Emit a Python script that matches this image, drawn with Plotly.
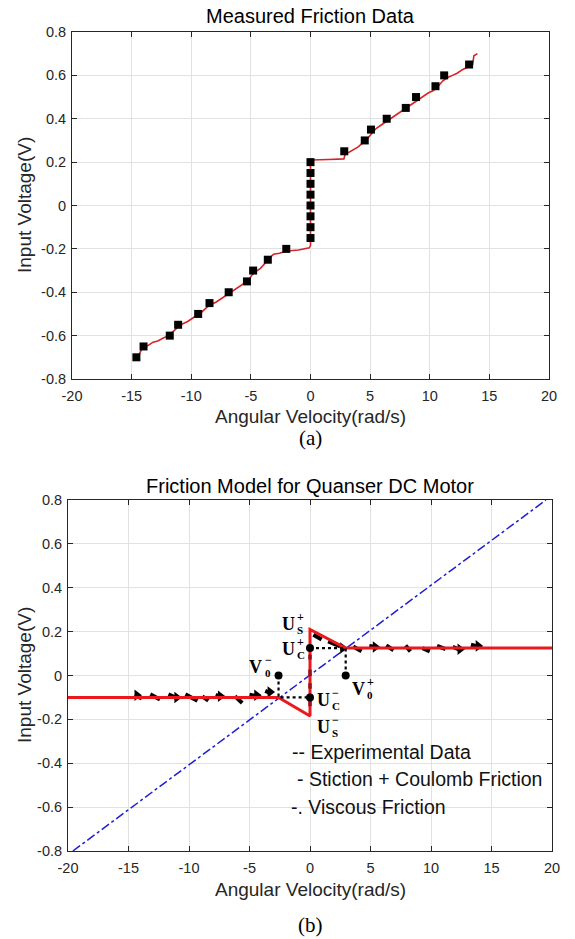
import plotly.graph_objects as go

# ---------------- data ----------------
# (a) measured friction data: squares
meas_x = [-14.6, -14.0, -11.8, -11.1, -9.42, -8.47, -6.86, -5.33, -4.81, -3.58, -2.03,
          0, 0, 0, 0, 0, 0, 0, 0,
          2.83, 4.55, 5.07, 6.39, 7.99, 8.85, 10.48, 11.21, 13.3]
meas_y = [-0.70, -0.65, -0.60, -0.55, -0.50, -0.45, -0.40, -0.35, -0.30, -0.25, -0.20,
          -0.15, -0.10, -0.05, 0.0, 0.05, 0.10, 0.15, 0.20,
          0.25, 0.30, 0.35, 0.40, 0.45, 0.50, 0.55, 0.60, 0.65]

# (a) red measured curve
curve_x = [-14.6, -14.4, -14.1, -13.6, -13.2, -12.8, -12.3, -11.9, -11.5, -11.1, -10.7, -10.3,
           -9.9, -9.5, -9.1, -8.7, -8.3, -7.9, -7.5, -7.1, -6.7, -6.3, -5.9, -5.5, -5.2,
           -4.9, -4.6, -4.2, -3.9, -3.6, -3.3, -3.1, -2.6, -2.0, -1.0, -0.1, 0.0,
           0.0, 0.1, 1.5, 2.8, 2.9, 3.2, 3.6, 4.0, 4.4, 4.8, 5.1, 5.5, 5.9, 6.3, 6.7,
           7.1, 7.5, 7.9, 8.3, 8.7, 9.1, 9.5, 9.9, 10.3, 10.7, 11.1, 11.5, 11.9, 12.3,
           12.7, 13.1, 13.4, 13.6, 13.7, 14.0]
curve_y = [-0.70, -0.69, -0.655, -0.645, -0.63, -0.625, -0.61, -0.60, -0.58, -0.56, -0.545, -0.535,
           -0.52, -0.505, -0.49, -0.47, -0.455, -0.445, -0.43, -0.415, -0.40, -0.385, -0.37, -0.355, -0.345,
           -0.32, -0.305, -0.29, -0.27, -0.255, -0.235, -0.225, -0.22, -0.21, -0.205, -0.195, -0.185,
           0.205, 0.21, 0.212, 0.215, 0.235, 0.245, 0.255, 0.27, 0.29, 0.31, 0.33, 0.355, 0.37, 0.385, 0.40,
           0.415, 0.43, 0.445, 0.46, 0.475, 0.49, 0.505, 0.52, 0.53, 0.55, 0.575, 0.59, 0.60, 0.61,
           0.625, 0.635, 0.645, 0.65, 0.69, 0.70]

# (b) experimental data dashes (segments)
exp_x0 = [-14.5, -13.2, -11.7, -10.3, -8.9, -7.8, -6.2, -5.0, -3.7,
          0.28, 1.5, 3.57, 4.9, 6.3, 7.9, 9.3, 10.5, 11.8, 13.3]
exp_x1 = [-13.9, -12.4, -10.9, -9.3, -8.4, -7.3, -5.6, -4.3, -3.2,
          0.96, 2.5, 4.26, 5.5, 6.9, 8.3, 9.9, 11.2, 12.5, 14.0]
exp_y0 = [-0.09, -0.086, -0.086, -0.086, -0.095, -0.088, -0.095, -0.088, -0.07,
          0.186, 0.156, 0.132, 0.135, 0.137, 0.137, 0.125, 0.135, 0.13, 0.14]
exp_y1 = [-0.105, -0.109, -0.106, -0.115, -0.115, -0.10, -0.125, -0.095, -0.082,
          0.164, 0.133, 0.11, 0.13, 0.115, 0.11, 0.11, 0.12, 0.115, 0.13]
exp_tri_x = [-14.3, -11.0, -7.4, -4.4, -3.3, 2.7, 5.4, 12.4, 13.9]
exp_tri_y = [-0.09, -0.1, -0.095, -0.09, -0.075, 0.125, 0.13, 0.12, 0.135]
exp_vert_y0 = [0.095, 0.027, -0.035, -0.11]
exp_vert_y1 = [0.073, -0.003, -0.06, -0.14]

# (b) stiction + coulomb model
model_x = [-20, -2.6, 0, 0, 2.95, 20]
model_y = [-0.10, -0.10, -0.185, 0.21, 0.125, 0.125]

# (b) viscous friction line
visc_x = [-19.6, 19.5]
visc_y = [-0.80, 0.80]

# (b) dotted guides and points
guide1_x = [0, 2.95, 2.95]
guide1_y = [0.125, 0.125, 0.0]
guide2_x = [-2.6, -2.6, 0]
guide2_y = [0.0, -0.10, -0.10]
dots_x = [0, 2.95, -2.6, 0]
dots_y = [0.125, 0.0, 0.0, -0.10]

# (b) math labels: base, superscript, subscript, x, y
lab_base = ["U", "U", "V", "U", "U", "V"]
lab_sup = ["+", "+", "\u2212", "\u2212", "\u2212", "+"]
lab_sub = ["S", "C", "0", "C", "S", "0"]
lab_x = [-1.8, -1.8, -4.5, 1.1, 1.1, 4.0]
lab_y = [0.236, 0.123, 0.038, -0.11, -0.235, -0.06]

legend_lines = ["-- Experimental Data", "- Stiction + Coulomb Friction", "-. Viscous Friction"]

x_ticks = [-20, -15, -10, -5, 0, 5, 10, 15, 20]
x_ticktext = ["-20", "-15", "-10", "-5", "0", "5", "10", "15", "20"]
y_ticks = [-0.8, -0.6, -0.4, -0.2, 0, 0.2, 0.4, 0.6, 0.8]
y_ticktext = ["-0.8", "-0.6", "-0.4", "-0.2", "0", "0.2", "0.4", "0.6", "0.8"]

titles = ["Measured Friction Data", "Friction Model for Quanser DC Motor"]
x_title = "Angular Velocity(rad/s)"
y_title = "Input Voltage(V)"
captions = ["(a)", "(b)"]

# ---------------- layout helpers ----------------
W, H = 575, 939
def px(v):
    return v / W
def py(v):
    return 1 - v / H

SANS = "Liberation Sans, Arial, sans-serif"
SERIF = "Liberation Serif, Times New Roman, serif"
AX = "#262626"

fig = go.Figure()

# ---- top chart ----
fig.add_trace(go.Scatter(x=curve_x, y=curve_y, mode="lines",
                         line=dict(color="rgb(215,35,40)", width=1.6),
                         xaxis="x", yaxis="y", showlegend=False))
fig.add_trace(go.Scatter(x=meas_x, y=meas_y, mode="markers",
                         marker=dict(symbol="square", size=8, color="black"),
                         xaxis="x", yaxis="y", showlegend=False))

# ---- bottom chart ----
fig.add_trace(go.Scatter(x=visc_x, y=visc_y, mode="lines",
                         line=dict(color="rgb(30,30,210)", width=1.5, dash="dashdot"),
                         xaxis="x2", yaxis="y2", showlegend=False))
ex, ey = [], []
for a, b, c, d in zip(exp_x0, exp_x1, exp_y0, exp_y1):
    ex += [a, b, None]
    ey += [c, d, None]
fig.add_trace(go.Scatter(x=ex, y=ey, mode="lines",
                         line=dict(color="black", width=4),
                         xaxis="x2", yaxis="y2", showlegend=False))
fig.add_trace(go.Scatter(x=exp_tri_x, y=exp_tri_y, mode="markers",
                         marker=dict(symbol="triangle-right", size=10, color="black"),
                         xaxis="x2", yaxis="y2", showlegend=False))
fig.add_trace(go.Scatter(x=model_x, y=model_y, mode="lines",
                         line=dict(color="rgb(235,25,30)", width=3),
                         xaxis="x2", yaxis="y2", showlegend=False))
vx, vy = [], []
for a, b in zip(exp_vert_y0, exp_vert_y1):
    vx += [0, 0, None]
    vy += [a, b, None]
fig.add_trace(go.Scatter(x=vx, y=vy, mode="lines",
                         line=dict(color="rgb(150,20,25)", width=3.5),
                         xaxis="x2", yaxis="y2", showlegend=False))
for gx, gy in ((guide1_x, guide1_y), (guide2_x, guide2_y)):
    fig.add_trace(go.Scatter(x=gx, y=gy, mode="lines",
                             line=dict(color="black", width=2.2, dash="dot"),
                             xaxis="x2", yaxis="y2", showlegend=False))
fig.add_trace(go.Scatter(x=dots_x, y=dots_y, mode="markers",
                         marker=dict(symbol="circle", size=8, color="black"),
                         xaxis="x2", yaxis="y2", showlegend=False))

def axis_common():
    return dict(range=[-20, 20], showgrid=True, gridcolor="#e2e2e2", gridwidth=1,
                zeroline=False, showline=True, linecolor=AX, linewidth=1,
                mirror="ticks", ticks="inside", ticklen=5, tickcolor=AX,
                tickfont=dict(family=SANS, size=14.5, color=AX), automargin=False,
                fixedrange=True)

xa = axis_common(); xa.update(tickvals=x_ticks, ticktext=x_ticktext, ticklabelstandoff=4)
ya = axis_common(); ya.update(range=[-0.8, 0.8], tickvals=y_ticks, ticktext=y_ticktext, ticklabelstandoff=2)

fig.update_layout(
    width=W, height=H, template="none",
    margin=dict(l=0, r=0, t=0, b=0, pad=0),
    paper_bgcolor="white", plot_bgcolor="white",
    xaxis=dict(xa, domain=[px(72), px(549)], anchor="y"),
    yaxis=dict(ya, domain=[py(379), py(32)], anchor="x"),
    xaxis2=dict(xa, domain=[px(68), px(552)], anchor="y2"),
    yaxis2=dict(ya, domain=[py(851), py(500)], anchor="x2"),
)

ann = []
# titles
for t, xc, yc in ((titles[0], 310, 16), (titles[1], 310, 486)):
    ann.append(dict(text=t, x=px(xc), y=py(yc), xref="paper", yref="paper",
                    xanchor="center", yanchor="middle", showarrow=False,
                    font=dict(family=SANS, size=20, color="black")))
# axis titles
for xc, yc in ((310, 416), (310, 889)):
    ann.append(dict(text=x_title, x=px(xc), y=py(yc), xref="paper", yref="paper",
                    xanchor="center", yanchor="middle", showarrow=False,
                    font=dict(family=SANS, size=19, color=AX)))
for yc in (205, 675):
    ann.append(dict(text=y_title, x=px(24), y=py(yc), xref="paper", yref="paper",
                    xanchor="center", yanchor="middle", showarrow=False, textangle=-90,
                    font=dict(family=SANS, size=19, color=AX)))
# captions
for c, yc in zip(captions, (438, 925)):
    ann.append(dict(text=c, x=px(310), y=py(yc), xref="paper", yref="paper",
                    xanchor="center", yanchor="middle", showarrow=False,
                    font=dict(family=SERIF, size=21, color="black")))
# legend texts
for t, xl, yc in zip(legend_lines, (290, 295, 289), (752, 779, 807)):
    ann.append(dict(text=t, x=px(xl), y=py(yc), xref="paper", yref="paper",
                    xanchor="left", yanchor="middle", showarrow=False,
                    font=dict(family=SANS, size=19.5, color="#111111")))
# math labels
for b, sp, sb, lx, ly in zip(lab_base, lab_sup, lab_sub, lab_x, lab_y):
    common = dict(x=lx, y=ly, xref="x2", yref="y2", showarrow=False, borderpad=0)
    ann.append(dict(common, text="<b>%s</b>" % b, xanchor="center", yanchor="middle",
                    font=dict(family=SERIF, size=18, color="black")))
    ann.append(dict(common, text="<b>%s</b>" % sp, xanchor="left", yanchor="middle",
                    xshift=8, yshift=7, font=dict(family=SERIF, size=12, color="black")))
    ann.append(dict(common, text="<b>%s</b>" % sb, xanchor="left", yanchor="middle",
                    xshift=8, yshift=-6, font=dict(family=SERIF, size=11, color="black")))
fig.update_layout(annotations=ann)

fig.write_html("out.html", config={"displayModeBar": False},
               post_script="document.body.style.margin='0';document.body.style.overflow='hidden';")
